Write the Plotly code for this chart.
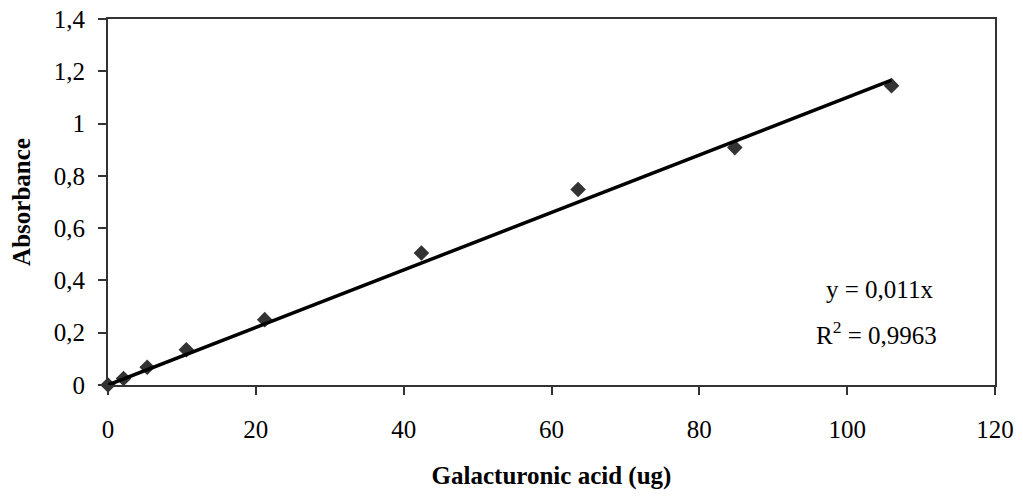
import plotly.graph_objects as go

# Data
galacturonic_ug = [0, 2.1, 5.3, 10.6, 21.2, 42.4, 63.6, 84.8, 106.0]
absorbance = [0.0, 0.025, 0.068, 0.135, 0.25, 0.505, 0.748, 0.908, 1.145]
slope = 0.011
trend_x = [0, 106.0]
trend_y = [slope * v for v in trend_x]
x_ticks = [0, 20, 40, 60, 80, 100, 120]
y_ticks = [0, 0.2, 0.4, 0.6, 0.8, 1.0, 1.2, 1.4]

FONT = "Liberation Serif"
AXIS_COLOR = "#333333"

fig = go.Figure()
fig.add_trace(go.Scatter(
    x=galacturonic_ug, y=absorbance, mode="markers",
    marker=dict(symbol="diamond", size=12, color="#333333"),
    cliponaxis=False, showlegend=False,
))
fig.add_trace(go.Scatter(
    x=trend_x, y=trend_y, mode="lines",
    line=dict(color="black", width=3.5),
    cliponaxis=False, showlegend=False,
))

fig.update_layout(
    width=1023, height=499,
    margin=dict(l=108, r=28, t=19, b=114),
    paper_bgcolor="white", plot_bgcolor="white",
    separators=", ",
    font=dict(family=FONT, size=24, color="black"),
    xaxis=dict(
        range=[0, 120], tickvals=x_ticks, showgrid=False, zeroline=False,
        showline=True, linecolor=AXIS_COLOR, linewidth=2, mirror=True,
        ticks="outside", ticklen=8, tickwidth=2, tickcolor=AXIS_COLOR,
        tickfont=dict(family=FONT, size=25), ticklabelstandoff=13,
        automargin=False,
        title=dict(text="<b>Galacturonic acid (ug)</b>", font=dict(family=FONT, size=25), standoff=24),
    ),
    yaxis=dict(
        range=[0, 1.4], tickvals=y_ticks, showgrid=False, zeroline=False,
        showline=True, linecolor=AXIS_COLOR, linewidth=2, mirror=True,
        ticks="outside", ticklen=8, tickwidth=2, tickcolor=AXIS_COLOR,
        tickfont=dict(family=FONT, size=25), ticklabelstandoff=8,
        automargin=False,
        title=dict(text="<b>Absorbance</b>", font=dict(family=FONT, size=25), standoff=16),
    ),
    annotations=[
        dict(x=0.870, y=0.26, xref="paper", yref="paper",
             text="y = 0,011x", showarrow=False,
             font=dict(family=FONT, size=25), xanchor="center", yanchor="middle"),
        dict(x=0.866, y=0.142, xref="paper", yref="paper",
             text="R<sup>2</sup> = 0,9963", showarrow=False,
             font=dict(family=FONT, size=25), xanchor="center", yanchor="middle"),
    ],
)

fig.write_html("out.html")
